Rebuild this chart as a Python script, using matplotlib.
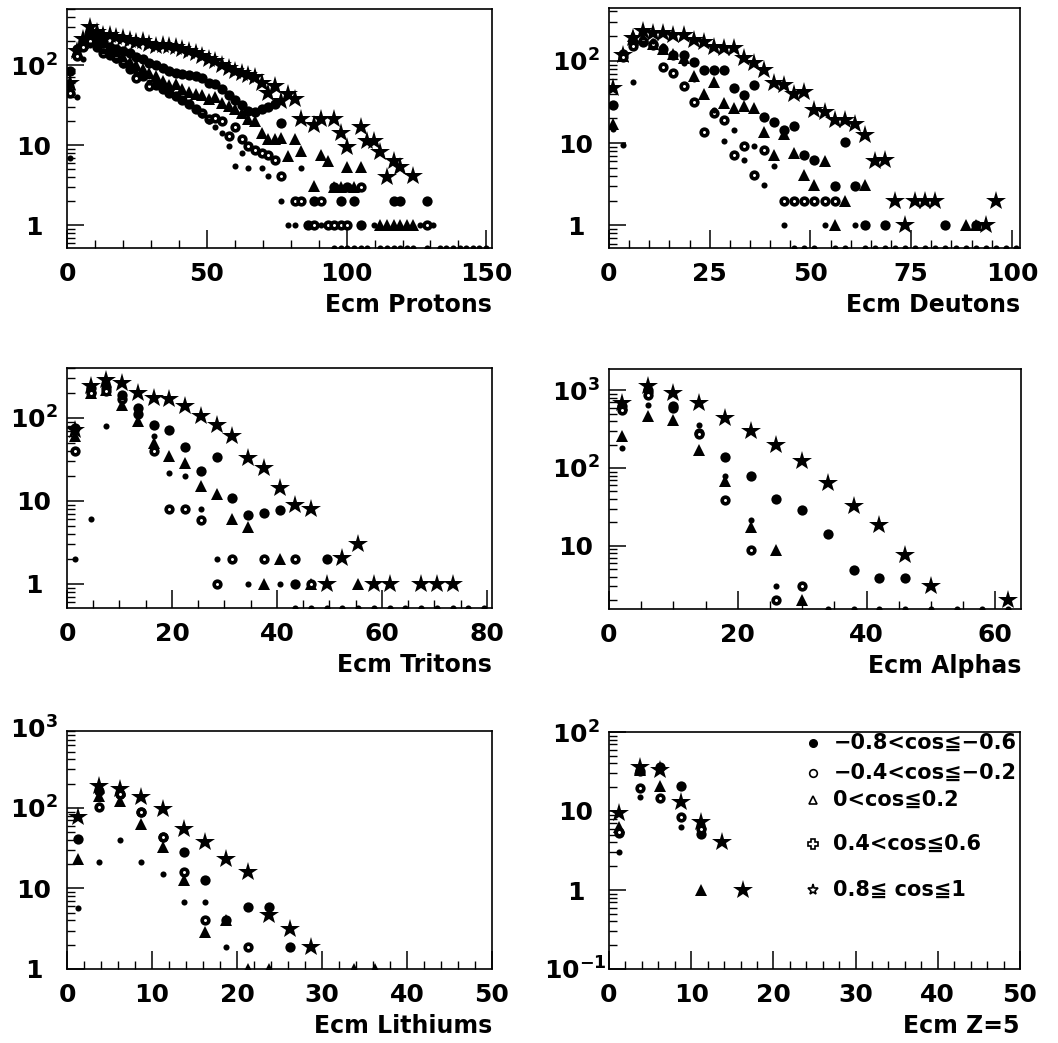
import numpy as np
import matplotlib
matplotlib.use("Agg")
import matplotlib.pyplot as plt
from matplotlib.ticker import FixedLocator, MultipleLocator, LogLocator, NullFormatter, FuncFormatter

nan = np.nan

series_labels = ["\u22120.8<cos\u2266\u22120.6", "\u22120.4<cos\u2266\u22120.2",
                 "0<cos\u22660.2", "0.4<cos\u22660.6", "0.8\u2266 cos\u22661"]

# ---------------- Protons ----------------
prot_x = [1.2, 3.6, 5.9, 8.3, 10.6, 13.0, 15.4, 17.7, 20.1, 22.4,
          24.8, 27.2, 29.5, 31.9, 34.2, 36.6, 39.0, 41.3, 43.7, 46.0,
          48.4, 50.8, 53.1, 55.5, 57.8, 60.2, 62.6, 64.9, 67.3, 69.6,
          72.0, 74.4, 76.7, 79.1, 81.4, 83.8, 86.2, 88.5, 90.9, 93.2,
          95.6, 98.0, 100.3, 102.7, 105.0, 107.4, 109.8, 112.1, 114.5, 116.8,
          119.2, 121.6, 123.9, 126.3, 128.6, 131.0, 133.4, 135.7, 138.1, 140.4,
          142.8, 145.2, 147.5, 149.9]
prot_m08 = [85, 160, 200, 230, 210, 190, 170, 160, 150, 140,
            125, 118, 105, 100, 92, 85, 80, 78, 75, 72,
            68, 60, 58, 50, 42, 37, 32, 27, 26, 28,
            30, 33, 19, nan, nan, nan, 1, 2, nan, nan,
            3, 2, 3, 2, 1, nan, nan, nan, nan, 2,
            2, nan, nan, nan, 2]
prot_m04 = [45, 130, 170, 200, 170, 142, 132, 124, 105, 90,
            69, 73, 54, 56, 50, 45, 41, 37, 33, 28,
            25, 21, 22, 20, 13, 17, 12, 9.7, 8.8, 8.0,
            7.6, 6.6, 4.1, nan, 2, 2, nan, 1, 2, 1,
            1, 1, 1, nan, 3, nan, nan, nan, nan, nan,
            nan, nan, nan, nan, 1]
prot_p00 = [50, 150, 190, 270, 230, 200, 165, 145, 125, 110,
            100, 90, 80, 72, 64, 56, 58, 50, 46, 44,
            42, 38, 40, 34, 31, 28, 25, 21, 20, 14,
            12, 12, 12.4, 7.4, 12, 8.5, nan, 3.1, 7.6, 6.3,
            3, 3, 5.3, 3, 5.3, nan, nan, 1, 1, 1,
            1, 1, 1]
prot_p04 = [7, 40, 120, 180, 175, 150, 130, 115, 100, 88,
            80, 70, 62, 56, 50, 45, 40, 36, 32, 28,
            24, 20, 17, 14, 9.7, 5.5, 8, 5.2, nan, 5.2,
            4.1, nan, 2, 1, 1, 5.2, nan, nan, 1, nan,
            0, 0, 0, 0, 0, 0, 1, 0, 0, 0,
            0, 0, 0, 1, 0, 1, 0, 0, 0, 0,
            0, 0, 0, 0]
prot_p08 = [60, 150, 210, 300, 260, 240, 235, 225, 220, 205,
            195, 200, 185, 175, 180, 175, 170, 160, 150, 140,
            130, 120, 112, 100, 92, 85, 80, 75, 70, 60,
            45, 55, 36, 43, 38, 21, nan, 18, 21, nan,
            21, 14, 9.4, nan, 16.6, 11.3, 11.3, 8.1, 4.0, 6.4,
            5.3, nan, 4.1]

# ---------------- Deutons ----------------
deut_x = [1.0, 3.5, 6.0, 8.5, 11.0, 13.5, 16.0, 18.5, 21.0, 23.5,
          26.0, 28.5, 31.0, 33.5, 36.0, 38.5, 41.0, 43.5, 46.0, 48.5,
          51.0, 53.5, 56.0, 58.5, 61.0, 63.5, 66.0, 68.5, 71.0, 73.5,
          76.0, 78.5, 81.0, 83.5, 86.0, 88.5, 91.0, 93.5, 96.0, 98.5, 101.0]
deut_m08 = [29, 120, 165, 170, 157, 140, 118, 118, 98, 78,
            78, 78, 47, 39, 51, 21, 18.3, 14.5, 16, 7.2,
            6.3, nan, 3, 10.4, 3, 1, nan, 1, nan, nan,
            nan, nan, nan, 1, nan, nan, 1]
deut_m04 = [nan, 110, 150, 175, 160, 85, 71, 49, 32, 13.8,
            23, 19, 7.2, 9.1, 4.1, 8.3, nan, 2, 2, 2,
            2, 2, 2]
deut_p00 = [17, 115, 200, 190, 160, 140, 120, 108, 65, 40,
            56, 30.5, 27, 28, 27, 13.5, 7.2, 13, 7.6, 4.1,
            3.1, 6, 1, 2, nan, 3.1, nan, nan, nan, nan,
            nan, nan, nan, nan, nan, 1, 1]
deut_p04 = [15, 9.5, 56, 165, 175, 150, 120, 95, 60, 37,
            25, 10.5, 14.5, 6.3, 9.1, 3.1, 5.2, 1, 0, 0,
            0, 1, 0, 0, 1, 0, 0, 0, 0, 0,
            0, 0, 0, 0, 0, 0, 0, 0, 0, 0, 0]
deut_p08 = [47, 118, 190, 228, 218, 218, 208, 208, 180, 171,
            149, 142, 142, 108, 94, 78, 54, 51, 40, 42,
            25, 24, 19, 19, 17, 12.6, 6, 6.3, 2, 1,
            2, 2, 2, nan, nan, nan, nan, 1, 2]

# ---------------- Tritons ----------------
trit_x = [1.5, 4.5, 7.5, 10.5, 13.5, 16.5, 19.5, 22.5, 25.5, 28.5,
          31.5, 34.5, 37.5, 40.5, 43.5, 46.5, 49.5, 52.5, 55.5, 58.5,
          61.5, 64.5, 67.5, 70.5, 73.5, 76.5, 79.5]
trit_m08 = [76, 230, 230, 190, 132, 83, 72, 45, 23, 34,
            10.8, 6.8, 7.1, 7.8, 1, nan, 2]
trit_m04 = [40, 200, 210, 170, 110, 40, 7.9, 7.9, 5.9, 1,
            2, nan, 2, nan, 2, 1]
trit_p00 = [60, 200, 220, 145, 91, 50, 34.5, 28.6, 15, 12,
            6, 4.9, 1, 2, nan, 1, nan, nan, 1]
trit_p04 = [2, 6, 80, 180, 110, 60, 21.7, 20, 7.9, 2,
            nan, 1, nan, 1, 0, 0, 0, 0, 0, 0,
            0, 0, 0, 0, 0, 0, 0]
trit_p08 = [72, 240, 290, 265, 200, 175, 167, 138, 105, 83,
            60, 33, 25, 14.3, 9.0, 7.9, 1, 2.05, 3, 1,
            1, nan, 1, 1, 1]

# ---------------- Alphas ----------------
alph_x = [2, 6, 10, 14, 18, 22, 26, 30, 34, 38, 42, 46, 50, 54, 58, 62]
alph_m08 = [620, 1000, 620, 283, 138, 78, 40, 28.5, 14.3, 4.9, 3.8, 3.8]
alph_m04 = [560, 870, 590, 270, 39, 8.9, 2.0, 3.0]
alph_p00 = [255, 465, 420, 172, 67, 17.6, 8.9, 2.0]
alph_p04 = [181, 650, 600, 360, 80, 21.6, 3.0, nan, 0, 0, 0, 0, 0, 0, 0, 0]
alph_p08 = [690, 1120, 930, 690, 440, 295, 200, 122, 64, 32, 18.6, 7.6, 3.0, nan, nan, 2.0]

# ---------------- Lithiums ----------------
lith_x = [1.25, 3.75, 6.25, 8.75, 11.25, 13.75, 16.25, 18.75, 21.25, 23.75,
          26.25, 28.75, 31.25, 33.75, 36.25, 38.75, 41.25, 43.75, 46.25, 48.75]
lith_m08 = [41, 160, 150, 89, 43, 28.5, 12.7, 4.1, 5.8, 5.9, 1.9]
lith_m04 = [nan, 102, 150, 89, 43, 16, 4.1, nan, 1.9]
lith_p00 = [23.5, 142, 123, 63, 32.6, 12.7, 2.9, 4.1, 1, 1, nan, nan, nan, 1, 1]
lith_p04 = [5.7, 21, 39.5, 21, 15.3, 6.8, 6.8, 1.9]
lith_p08 = [76, 189, 171, 135, 97, 55, 38, 23.5, 16, 4.7, 3.1, 1.9]

# ---------------- Z=5 ----------------
z5_x = [1.25, 3.75, 6.25, 8.75, 11.25, 13.75, 16.25]
z5_m08 = [5.2, 32, 36, 21, 5.1]
z5_m04 = [5.5, 19.5, 14.5, 8.5, 6.0]
z5_p00 = [6.3, 33, 21, nan, 1]
z5_p04 = [3.05, 15, nan, 6.3]
z5_p08 = [9.3, 36, 33, 13, 7.3, 4.1, 1]

# ---------------- styling ----------------
plt.rcParams["font.family"] = ["DejaVu Sans", "Noto Sans CJK JP"]
plt.rcParams["font.weight"] = "bold"
plt.rcParams["mathtext.default"] = "regular"
plt.rcParams["mathtext.fontset"] = "custom"
plt.rcParams["mathtext.rm"] = "DejaVu Sans:bold"
plt.rcParams["mathtext.it"] = "DejaVu Sans:bold"
plt.rcParams["mathtext.bf"] = "DejaVu Sans:bold"

K = "black"
styles = [
    dict(marker="o", ms=7.4, mfc=K, mec=K, mew=0),            # -0.8..-0.6
    dict(marker="o", ms=4.8, mfc="white", mec=K, mew=2.6),    # -0.4..-0.2
    dict(marker="^", ms=8.8, mfc=K, mec=K, mew=0),            # 0..0.2
    dict(marker="o", ms=4.4, mfc=K, mec=K, mew=0),            # 0.4..0.6
    dict(marker="*", ms=14.5, mfc=K, mec=K, mew=0),           # 0.8..1
]
draw_order = [2, 0, 4, 1, 3]

fig = plt.figure(figsize=(10.58, 10.43), dpi=100)

W, H = 1058.0, 1043.0
def rect(l, t, r, b):
    return [l / W, 1 - b / H, (r - l) / W, (b - t) / H]

panels = [
    dict(rect=rect(67, 9, 492, 248), x=prot_x,
         ys=[prot_m08, prot_m04, prot_p00, prot_p04, prot_p08],
         xlim=(0, 152), ylim=(0.52, 500), xmaj=[0, 50, 100, 150], xmin=10,
         yt=[1, 10, 100], label="Ecm Protons"),
    dict(rect=rect(609, 8, 1020, 248), x=deut_x,
         ys=[deut_m08, deut_m04, deut_p00, deut_p04, deut_p08],
         xlim=(0, 102), ylim=(0.53, 440), xmaj=[0, 25, 50, 75, 100], xmin=5,
         yt=[1, 10, 100], label="Ecm Deutons"),
    dict(rect=rect(67, 368, 492, 608), x=trit_x,
         ys=[trit_m08, trit_m04, trit_p00, trit_p04, trit_p08],
         xlim=(0, 81), ylim=(0.51, 400), xmaj=[0, 20, 40, 60, 80], xmin=5,
         yt=[1, 10, 100], label="Ecm Tritons"),
    dict(rect=rect(609, 369, 1021, 609), x=alph_x,
         ys=[alph_m08, alph_m04, alph_p00, alph_p04, alph_p08],
         xlim=(0, 64), ylim=(1.53, 1880), xmaj=[0, 20, 40, 60], xmin=5,
         yt=[10, 100, 1000], label="Ecm Alphas"),
    dict(rect=rect(67, 731, 492, 969), x=lith_x,
         ys=[lith_m08, lith_m04, lith_p00, lith_p04, lith_p08],
         xlim=(0, 50), ylim=(1, 900), xmaj=[0, 10, 20, 30, 40, 50], xmin=2,
         yt=[1, 10, 100], label="Ecm Lithiums", extra_top=1000),
    dict(rect=rect(609, 732, 1020, 969), x=z5_x,
         ys=[z5_m08, z5_m04, z5_p00, z5_p04, z5_p08],
         xlim=(0, 50), ylim=(0.1, 100), xmaj=[0, 10, 20, 30, 40, 50], xmin=2,
         yt=[0.1, 1, 10, 100], label="Ecm Z=5", legend=True),
]

def ylab(v):
    e = int(round(np.log10(v)))
    if e == 0:
        return "1"
    if e == 1:
        return "10"
    return r"$\mathregular{10^{%d}}$" % e

fmt = FuncFormatter(lambda v, pos: ylab(v))

for p in panels:
    ax = fig.add_axes(p["rect"])
    ax.set_yscale("log")
    ax.set_xlim(*p["xlim"])
    ax.set_ylim(*p["ylim"])
    ymin = p["ylim"][0]
    for i in draw_order:
        yv = np.array(p["ys"][i], dtype=float)
        xv = np.array(p["x"][:len(yv)], dtype=float)
        yv = np.where(yv == 0, ymin, yv)
        ax.plot(xv, yv, ls="none", clip_on=True, **styles[i])

    ax.xaxis.set_major_locator(FixedLocator(p["xmaj"]))
    ax.xaxis.set_minor_locator(MultipleLocator(p["xmin"]))
    ax.yaxis.set_major_locator(FixedLocator(p["yt"]))
    ax.yaxis.set_minor_locator(LogLocator(base=10, subs=np.arange(2, 10), numticks=30))
    ax.yaxis.set_minor_formatter(NullFormatter())
    ax.yaxis.set_major_formatter(fmt)
    ax.xaxis.set_major_formatter(FuncFormatter(lambda v, pos: "%d" % round(v)))

    ax.tick_params(axis="x", which="major", direction="in", length=13, width=1.1,
                   top=False, labelsize=18, pad=10)
    ax.tick_params(axis="x", which="minor", direction="in", length=6, width=1.0, top=False)
    ax.tick_params(axis="y", which="major", direction="in", length=12, width=1.1,
                   right=False, labelsize=18, pad=24)
    ax.tick_params(axis="y", which="minor", direction="in", length=5.5, width=1.0, right=False)
    for lab in ax.get_yticklabels():
        lab.set_horizontalalignment("center")
    for s in ax.spines.values():
        s.set_linewidth(1.2)

    if p.get("extra_top"):
        ax.annotate(ylab(p["extra_top"]), xy=(0, p["extra_top"]),
                    xycoords=("axes fraction", "data"), xytext=(-24, 0),
                    textcoords="offset points", ha="center", va="center_baseline",
                    fontsize=18, annotation_clip=False)

    ax.annotate(p["label"], xy=(1, 0), xycoords="axes fraction", xytext=(0, -46),
                textcoords="offset points", ha="right", va="baseline", fontsize=17)

    if p.get("legend"):
        rows = [0.953, 0.826, 0.713, 0.527, 0.333]
        leg_markers = [
            dict(marker="o", ms=5.5, mfc=K, mec=K, mew=1.0),
            dict(marker="o", ms=5.5, mfc="white", mec=K, mew=1.2),
            dict(marker="^", ms=6, mfc="white", mec=K, mew=1.2),
            dict(marker="P", ms=6.5, mfc="white", mec=K, mew=1.2),
            dict(marker="*", ms=8, mfc="white", mec=K, mew=1.2),
        ]
        for yy, lab, mk in zip(rows, series_labels, leg_markers):
            ax.plot([0.497], [yy], transform=ax.transAxes, ls="none", clip_on=False, **mk)
            ax.text(0.546, yy, lab, transform=ax.transAxes, ha="left", va="center",
                    fontsize=15)

fig.savefig("out.png", dpi=100)
